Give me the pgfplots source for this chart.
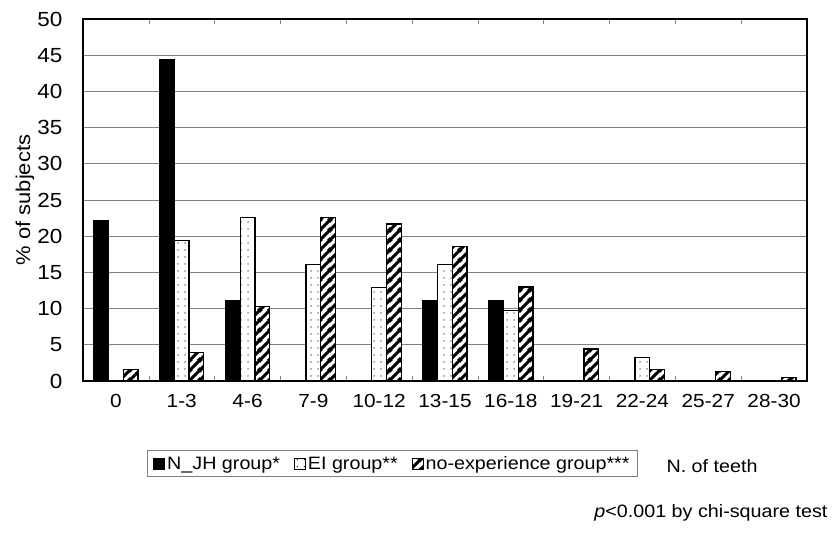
\documentclass[border=0pt]{standalone}
\usepackage{fontspec}
\setmainfont{Liberation Sans}[FakeStretch=1.1]
\usepackage{pgfplots}
\pgfplotsset{compat=1.18}
\usetikzlibrary{patterns.meta}

\tikzdeclarepattern{
  name=eidots,
  bottom left={(0bp,0bp)}, top right={(7bp,7bp)}, tile size={(7bp,7bp)},
  code={\fill (3.5bp,3.5bp) circle (0.75bp);}
}
\tikzdeclarepattern{
  name=hatchne,
  bottom left={(0bp,0bp)}, top right={(10bp,10bp)}, tile size={(10bp,10bp)},
  code={
    \draw[line width=3.3bp] (-2bp,-2bp) -- (12bp,12bp);
    \draw[line width=3.3bp] (-2bp,8bp) -- (2bp,12bp);
    \draw[line width=3.3bp] (8bp,-2bp) -- (12bp,2bp);
  }
}
\newcommand\xtickfont{\fontsize{19}{23}\selectfont}
\newcommand\ytickfont{\fontsize{20.5}{24}\selectfont}
\newcommand\labfont{\fontsize{20}{24}\selectfont}
\newcommand\legfont{\fontsize{18}{22}\selectfont}

\begin{document}
\begin{tikzpicture}
\path[use as bounding box] (-83bp,-159bp) rectangle (755bp,381bp);
\begin{axis}[
  at={(0,0)}, anchor=south west,
  scale only axis, width=724bp, height=362bp,
  /pgf/number format/assume math mode=true,
  ybar=0pt, bar width=14.7bp,
  xmin=-0.5, xmax=10.5, ymin=0, ymax=50,
  xtick={0,...,10},
  xticklabels={0,1-3,4-6,7-9,10-12,13-15,16-18,19-21,22-24,25-27,28-30},
  minor xtick={0.5,1.5,...,9.5},
  major x tick style={draw=none},
  minor tick length=5bp, tick align=inside,
  minor x tick style={gray, line width=0.6bp},
  ytick={0,5,...,50}, ytick style={draw=none},
  ymajorgrids, major grid style={gray, line width=0.7bp},
  axis line style={line width=1.3bp},
  xticklabel style={font=\xtickfont, yshift=-10bp},
  yticklabel style={font=\ytickfont, xshift=-17bp},
  ylabel={\% of subjects},
  ylabel style={at={(axis description cs:-0.0801,0.5)}, anchor=center, font=\labfont},
  clip=false,
  legend style={at={(axis description cs:0.0884,-0.1906)}, anchor=north west,
    draw=gray, line width=0.8bp, font=\legfont, legend columns=3,
    inner xsep=6bp, inner ysep=4bp,
    /tikz/every even column/.append style={column sep=12bp}},
  legend image code/.code={\draw[#1, line width=0.8bp] (0bp,-5.5bp) rectangle (11bp,5.5bp);},
]
\addplot[fill=black, draw=black, line width=1.3bp] coordinates {(0,22.2)(1,44.4)(2,11.1)(3,0)(4,0)(5,11.1)(6,11.1)(7,0)(8,0)(9,0)(10,0)};
\addplot[fill=white, draw=black, line width=1.3bp, postaction={pattern=eidots, pattern color=black}] coordinates {(0,0)(1,19.4)(2,22.6)(3,16.1)(4,12.9)(5,16.1)(6,9.7)(7,0)(8,3.2)(9,0)(10,0)};
\addplot[fill=white, draw=black, line width=1.3bp, postaction={pattern=hatchne, pattern color=black}] coordinates {(0,1.6)(1,3.9)(2,10.3)(3,22.6)(4,21.7)(5,18.6)(6,13.0)(7,4.4)(8,1.6)(9,1.3)(10,0.5)};
\legend{N\_JH group*, EI group**, no-experience group***}
\node[anchor=base, font=\legfont] at (axis description cs:0.8688,-0.2514) {N. of teeth};
\node[anchor=base east, font=\legfont] at (axis description cs:1.0331,-0.3757) {\textit{p}<0.001 by chi-square test};
\end{axis}
\end{tikzpicture}
\end{document}
